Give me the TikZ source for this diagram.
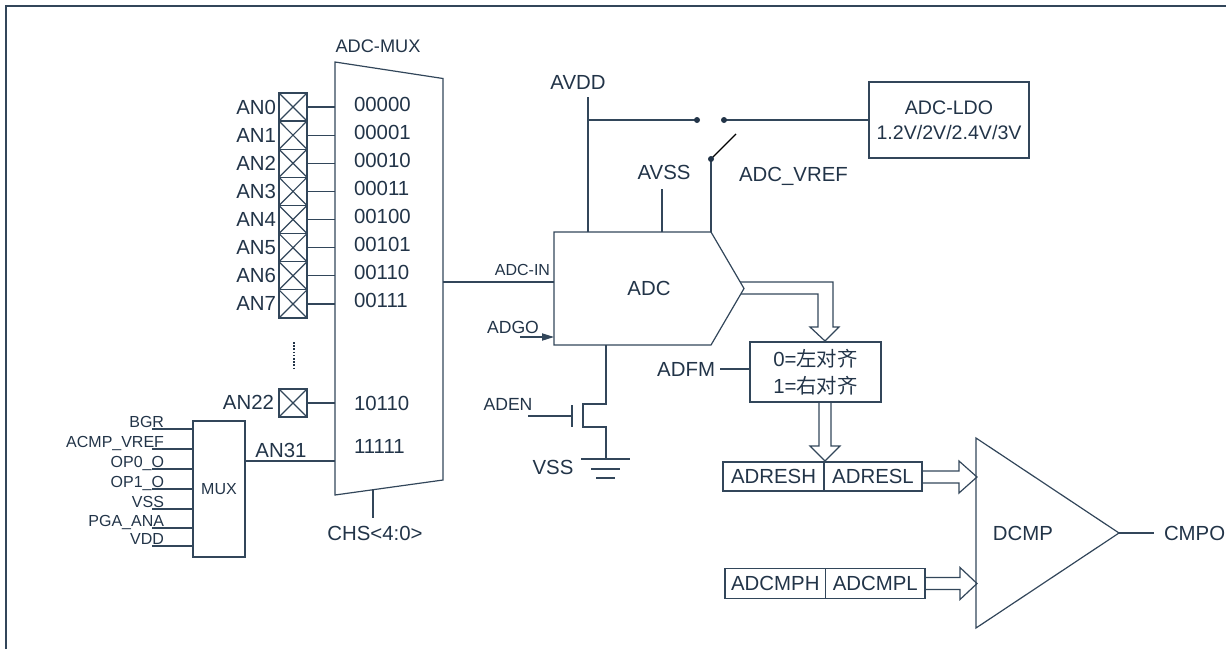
\documentclass[tikz,border=0pt]{standalone}
\usepackage{fontspec}
\setmainfont{Liberation Sans}
\newfontfamily\cjk{Noto Sans CJK SC}
\usetikzlibrary{arrows.meta}
\definecolor{ink}{RGB}{34,52,72}
\definecolor{wire}{RGB}{50,70,90}
\tikzset{
  mainf/.style={font=\fontsize{10.2}{12}\selectfont},
  smallf/.style={font=\fontsize{8}{9.6}\selectfont},
  midf/.style={font=\fontsize{8.8}{10}\selectfont},
  txt/.style={inner sep=0pt, outer sep=0pt, text=ink, mainf},
  pad/.style={draw=wire, inner sep=0pt, outer sep=0pt, minimum width=14pt, minimum height=14.06pt,
    path picture={\draw[wire] (path picture bounding box.north west) -- (path picture bounding box.south east)
      (path picture bounding box.south west) -- (path picture bounding box.north east);}},
  box/.style={draw=wire, inner sep=0pt, outer sep=0pt, text=ink, mainf},
  dotc/.style={fill=ink, draw=none},
}
\begin{document}
\begin{tikzpicture}[x=0.5pt,y=-0.5pt, line width=0.6pt, color=wire]
\useasboundingbox (0,0) rectangle (1226,649);
% frame
\draw[line width=1pt] (6,649) -- (6,6) -- (1226,6);

% ADC-MUX trapezoid
\coordinate (mTL) at (335,62);
\coordinate (mTR) at (443,78.5);
\coordinate (mBR) at (443,480);
\coordinate (mBL) at (335,495);
\draw (mTL) -- (mTR) -- (mBR) -- (mBL) -- cycle;
\node[txt, font=\fontsize{9.1}{11}\selectfont] (muxlbl) at (378,46) {ADC-MUX};

% pads AN0..AN7
\foreach \i/\code in {0/00000,1/00001,2/00010,3/00011,4/00100,5/00101,6/00110,7/00111}{
  \pgfmathsetmacro{\yy}{107+28.13*\i}
  \node[pad] (pad\i) at (293,\yy) {};
  \node[txt, anchor=east] (an\i) at (276,\yy) {AN\i};
  \node[txt, anchor=west] (code\i) at (354,\yy-3) {\code};
  \draw (pad\i.east) -- (pad\i.east -| mTL);
}
\draw[line width=1.1pt, dash pattern=on 0.8pt off 0.8pt, ink] (294,342) -- (294,370);
\node[pad] (pad22) at (293,403) {};
\node[txt, anchor=east] (an22) at (274,402) {AN22};
\node[txt, anchor=west] (code22) at (354,403) {10110};
\draw (pad22.east) -- (pad22.east -| mTL);
\node[txt, anchor=west] (code31) at (354,446) {11111};

% small MUX
\node[box, smallf, minimum width=26pt, minimum height=68pt] (mux) at (219,489) {MUX};
\coordinate (an31y) at (0,461);
\draw (mux.east |- an31y) -- (an31y -| mTL);
\node[txt, anchor=base] (an31) at (281,457) {AN31};
\foreach \n/\yy in {BGR/429,ACMP\_VREF/449,OP0\_O/469,OP1\_O/489,VSS/509,PGA\_ANA/528,VDD/546}{
  \coordinate (in) at (152,\yy);
  \draw (in) -- (in -| mux.west);
  \node[txt, smallf, anchor=base east] at (164,\yy-1.5) {\n};
}

% CHS
\coordinate (chsTop) at (373,489.7);
\coordinate (chsBot) at (373,518);
\draw (chsTop) -- (chsBot);
\node[txt] (chs) at (375,533) {CHS<4:0>};

% ADC block
\coordinate (aTL) at (554,232);
\coordinate (aTR) at (711,232);
\coordinate (aTip) at (744,288.5);
\coordinate (aBR) at (711,345);
\coordinate (aBL) at (554,345);
\draw (aTL) -- (aTR) -- (aTip) -- (aBR) -- (aBL) -- cycle;
\node[txt] (adc) at (649,288) {ADC};

% ADC-IN
\coordinate (ainL) at (443,282);
\draw (ainL) -- (ainL -| aTL);
\node[txt, smallf, anchor=base east] (adcin) at (550,275) {ADC-IN};

% ADGO
\node[txt, midf] (adgo) at (513,327) {ADGO};
\coordinate (adgoS) at (520,337);
\draw[-{Triangle[length=6pt,width=3.6pt]}] (adgoS) -- (adgoS -| aTL);

% AVDD, switch, LDO
\node[txt] (avdd) at (578,82) {AVDD};
\coordinate (avddTop) at (588,97);
\draw (avddTop) -- (avddTop |- aTL);
\node[box, minimum width=80pt, minimum height=38pt, align=center, font=\fontsize{9.8}{12.5}\selectfont] (ldo) at (949,120) {ADC-LDO\\1.2V/2V/2.4V/3V};
\coordinate (s1) at (697,120);
\coordinate (s2) at (724,120);
\coordinate (s3) at (711,159);
\coordinate (blade) at (736,134);
\draw (s1 -| avddTop) -- (s1);
\draw (s2) -- (ldo.west);
\draw[black, line width=0.55pt] (s3) -- (blade);
\draw (s3) -- (aTR);
\fill[dotc] (s1) circle (3);
\fill[dotc] (s2) circle (3);
\fill[dotc] (s3) circle (3);
\node[txt, anchor=west] (vref) at (739,176) {ADC\_VREF};

% AVSS
\node[txt] (avss) at (664,172) {AVSS};
\coordinate (avssB) at (662,189);
\draw (avssB) -- (avssB |- aTL);

% transistor and ground
\coordinate (d0) at (606,345);
\draw (d0) -- (606,404) -- (583,404) -- (583,427) -- (606,427) -- (606,459);
\draw (572,405) -- (572,427);
\coordinate (gate) at (572,416);
\draw (528,416) -- (gate);
\node[txt, midf] (aden) at (508,404) {ADEN};
\draw (581,459) -- (630,459);
\draw (591,469) -- (620,469);
\draw (596,478) -- (615,478);
\node[txt] (vss) at (553,467) {VSS};

% bus ADC -> ADFM
\draw[line join=miter] (740,282) -- (833,282) -- (833,327) -- (839,327) -- (825,341) -- (810,327) -- (818,327) -- (818,294) -- (740.8,294);

% ADFM box
\node[box, minimum width=65.5pt, minimum height=30pt, align=center, font=\fontsize{10.2}{13.5}\selectfont] (adfm) at (815.5,372) {0={\cjk 左对齐}\\1={\cjk 右对齐}};
\node[txt, anchor=east] (adfml) at (715,369) {ADFM};
\coordinate (adfmw) at (720,369);
\draw (adfmw) -- (adfmw -| adfm.west);

% bus ADFM -> register
\draw[line join=miter] (819,402) -- (819,446) -- (810,446) -- (825,461) -- (840,446) -- (831,446) -- (831,402);

% registers
\node[box, minimum width=50.5pt, minimum height=14.5pt] (adresh) at (773.5,476.5) {ADRESH};
\node[box, minimum width=49pt, minimum height=14.5pt, anchor=west] (adresl) at (adresh.east) {ADRESL};
\node[box, minimum width=50.3pt, minimum height=14.8pt] (adcmph) at (775.3,583.5) {ADCMPH};
\node[box, minimum width=49.7pt, minimum height=14.8pt, anchor=west] (adcmpl) at (adcmph.east) {ADCMPL};

% DCMP
\coordinate (dT) at (976,438);
\coordinate (dB) at (976,628);
\coordinate (dTip) at (1119,533);
\draw (dT) -- (dTip) -- (dB) -- cycle;
\node[txt] (dcmp) at (1023,533) {DCMP};
\node[txt, anchor=west] (cmpo) at (1164,533) {CMPO};
\draw (dTip) -- (1154,533);

% buses to DCMP
\draw[line join=miter] (922,471) -- (959,471) -- (959,461) -- (977,477) -- (959,493) -- (959,483) -- (922,483);
\draw[line join=miter] (925,577.5) -- (960,577.5) -- (960,567.5) -- (977,583.5) -- (960,599.5) -- (960,589.5) -- (925,589.5);
\end{tikzpicture}
\end{document}
